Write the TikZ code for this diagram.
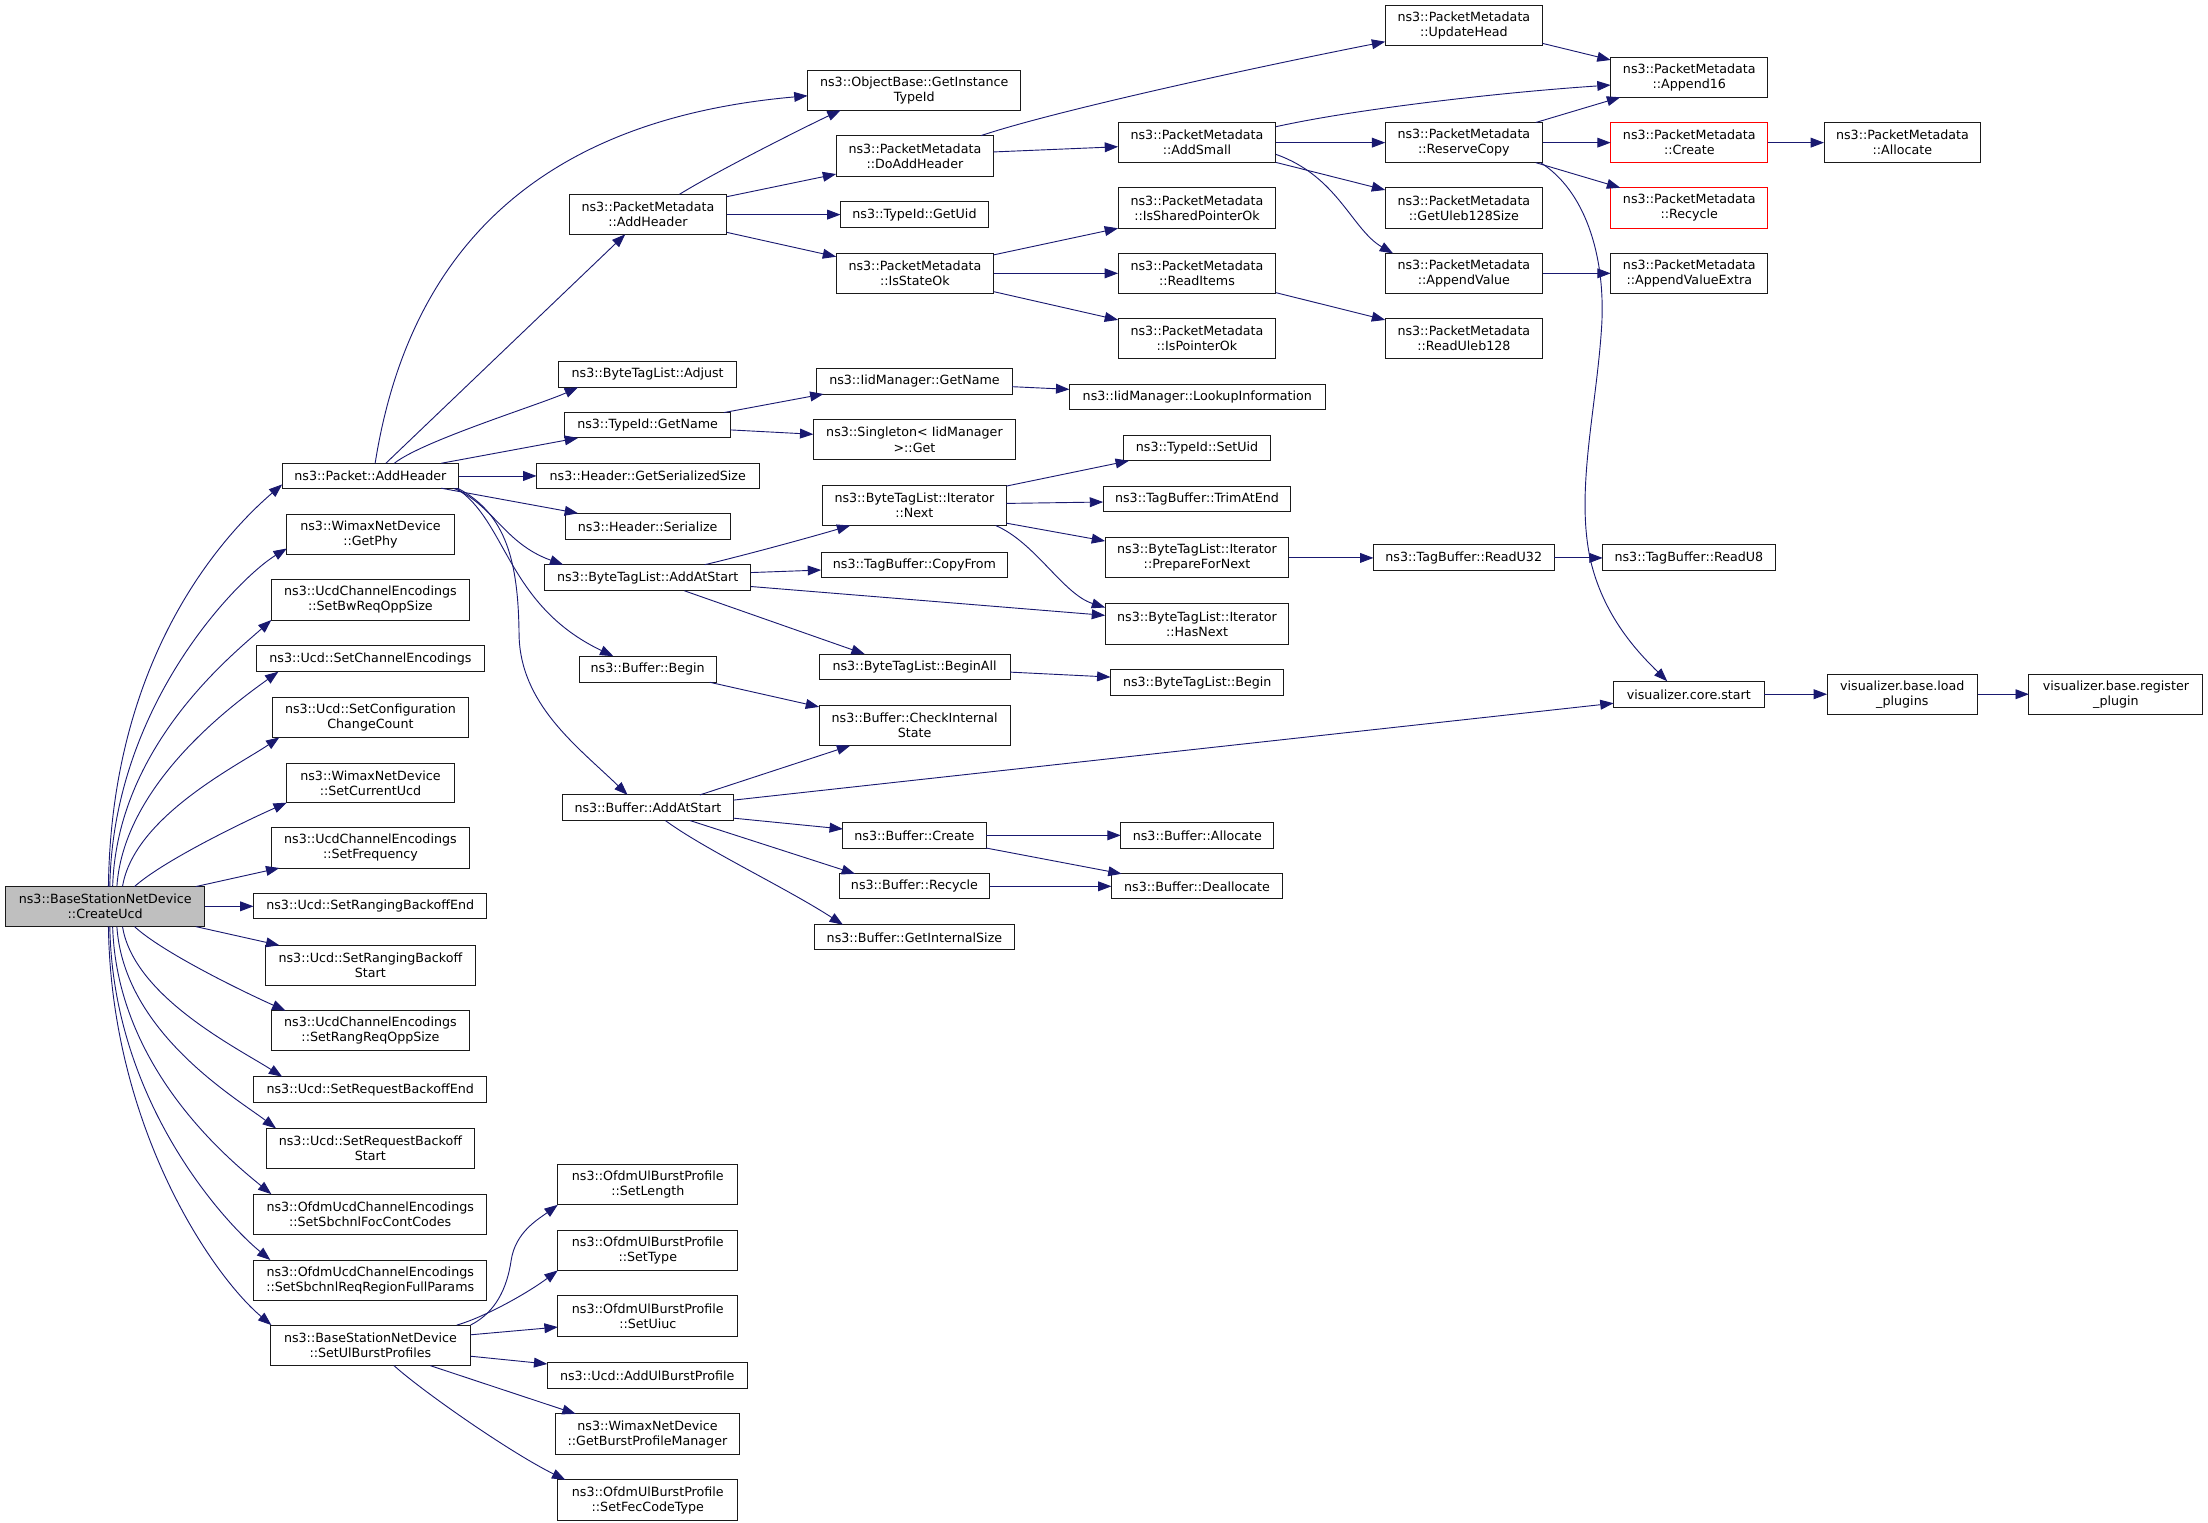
\documentclass[tikz,border=0pt]{standalone}
\usepackage{fontspec}
\setmainfont{DejaVu Sans}
\usetikzlibrary{arrows.meta}
\definecolor{edgec}{HTML}{191970}
\definecolor{graybg}{HTML}{BFBFBF}
\definecolor{boxline}{HTML}{1A1A1A}
\tikzset{
  bx/.style={draw=boxline, line width=0.7pt, fill=white, inner sep=0pt, outer sep=0pt,
    align=center, font=\fontsize{9.0}{10.7}\selectfont},
  redbx/.style={draw=red},
  e/.style={draw=edgec, line width=0.65pt, -{Triangle[length=9.5pt,width=7pt]}}
}
\newcommand\bx[7][]{\node[bx,#1,minimum width={(#5)-(#3)},minimum height={(#6)-(#4)}] (#2) at ({((#3)+(#5))/2},{((#4)+(#6))/2}) {#7};}
\begin{document}
\begin{tikzpicture}[x=1pt,y=-1pt]
\useasboundingbox (0,0) rectangle (1568,1081.5);
% ---------- column 1
\bx[fill=graybg]{A}{4}{629.6}{145.4}{658}{ns3::BaseStationNetDevice\\::CreateUcd}
% ---------- column 2
\bx{pah}{200.4}{329}{325.7}{346.7}{ns3::Packet::AddHeader}
\bx{getphy}{203.7}{365.2}{322.4}{393.6}{ns3::WimaxNetDevice\\::GetPhy}
\bx{bwreq}{192.7}{411.6}{333.4}{440.3}{ns3::UcdChannelEncodings\\::SetBwReqOppSize}
\bx{chenc}{182.3}{458.5}{343.8}{477}{ns3::Ucd::SetChannelEncodings}
\bx{ccc}{193.7}{495.2}{332.4}{523.6}{ns3::Ucd::SetConfiguration\\ChangeCount}
\bx{curucd}{203.7}{542}{322.4}{570}{ns3::WimaxNetDevice\\::SetCurrentUcd}
\bx{freq}{192.7}{587.7}{333.4}{616.4}{ns3::UcdChannelEncodings\\::SetFrequency}
\bx{rbe}{180}{634.6}{345.8}{652.6}{ns3::Ucd::SetRangingBackoffEnd}
\bx{rbs}{188.7}{671.3}{337.4}{699.7}{ns3::Ucd::SetRangingBackoff\\Start}
\bx{rro}{192.7}{717.7}{333.4}{746.3}{ns3::UcdChannelEncodings\\::SetRangReqOppSize}
\bx{rqe}{180.3}{764.6}{345.5}{783}{ns3::Ucd::SetRequestBackoffEnd}
\bx{rqs}{189.3}{801.3}{336.8}{830}{ns3::Ucd::SetRequestBackoff\\Start}
\bx{foc}{180}{848}{345.8}{877}{ns3::OfdmUcdChannelEncodings\\::SetSbchnlFocContCodes}
\bx{rrf}{180}{894.8}{345.8}{923.4}{ns3::OfdmUcdChannelEncodings\\::SetSbchnlReqRegionFullParams}
\bx{ulb}{192}{941}{334.1}{969.8}{ns3::BaseStationNetDevice\\::SetUlBurstProfiles}
% ---------- column 3
\bx{pmah}{404.1}{138}{516.1}{166.4}{ns3::PacketMetadata\\::AddHeader}
\bx{adj}{396.8}{256.8}{523.1}{275}{ns3::ByteTagList::Adjust}
\bx{tgn}{401.1}{293}{518.7}{311}{ns3::TypeId::GetName}
\bx{gss}{381}{329}{539}{347}{ns3::Header::GetSerializedSize}
\bx{ser}{401.5}{364.5}{518.4}{383}{ns3::Header::Serialize}
\bx{btas}{386.7}{401}{533.2}{419.5}{ns3::ByteTagList::AddAtStart}
\bx{bbeg}{411.2}{466}{508.7}{484.5}{ns3::Buffer::Begin}
\bx{bas}{399.5}{564.5}{520.8}{582.7}{ns3::Buffer::AddAtStart}
\bx{slen}{396.1}{826.8}{524}{855.6}{ns3::OfdmUlBurstProfile\\::SetLength}
\bx{stype}{396.1}{873.5}{524}{902.2}{ns3::OfdmUlBurstProfile\\::SetType}
\bx{suiuc}{396.1}{920.3}{524}{948.8}{ns3::OfdmUlBurstProfile\\::SetUiuc}
\bx{aulb}{388.7}{967.4}{530.5}{986}{ns3::Ucd::AddUlBurstProfile}
\bx{gbpm}{394.8}{1004}{524.8}{1033}{ns3::WimaxNetDevice\\::GetBurstProfileManager}
\bx{sfec}{396.1}{1050.9}{524}{1079.7}{ns3::OfdmUlBurstProfile\\::SetFecCodeType}
% ---------- column 4
\bx{obti}{573.5}{50.2}{725}{78.3}{ns3::ObjectBase::GetInstance\\TypeId}
\bx{dah}{593.8}{96.3}{705.6}{125}{ns3::PacketMetadata\\::DoAddHeader}
\bx{guid}{596.9}{143.2}{701.9}{161.7}{ns3::TypeId::GetUid}
\bx{iso}{593.8}{180}{705.6}{208.5}{ns3::PacketMetadata\\::IsStateOk}
\bx{iign}{580}{261.8}{718.8}{279.8}{ns3::IidManager::GetName}
\bx{sing}{577.6}{298}{721.2}{326.6}{ns3::Singleton< IidManager\\>::Get}
\bx{itn}{584.1}{345}{714.6}{373.2}{ns3::ByteTagList::Iterator\\::Next}
\bx{cpf}{583.1}{392.1}{715.7}{410}{ns3::TagBuffer::CopyFrom}
\bx{ball}{581.7}{464.5}{717.3}{482.3}{ns3::ByteTagList::BeginAll}
\bx{cis}{581.7}{500.7}{717.3}{529.5}{ns3::Buffer::CheckInternal\\State}
\bx{bcr}{598.6}{584.3}{700.2}{602.2}{ns3::Buffer::Create}
\bx{brc}{595.8}{620.5}{702.9}{638.3}{ns3::Buffer::Recycle}
\bx{gis}{578.3}{656.7}{720.5}{674.5}{ns3::Buffer::GetInternalSize}
% ---------- column 5
\bx{asm}{794}{87}{906}{115.5}{ns3::PacketMetadata\\::AddSmall}
\bx{ispo}{794}{133.3}{906}{162}{ns3::PacketMetadata\\::IsSharedPointerOk}
\bx{ritm}{794}{180}{906}{208.5}{ns3::PacketMetadata\\::ReadItems}
\bx{ipo}{794}{226.3}{906}{254.7}{ns3::PacketMetadata\\::IsPointerOk}
\bx{lki}{759.4}{273.2}{941.1}{291.1}{ns3::IidManager::LookupInformation}
\bx{suid}{797.9}{309}{902.2}{327.2}{ns3::TypeId::SetUid}
\bx{trim}{783.4}{345.2}{916.7}{363.3}{ns3::TagBuffer::TrimAtEnd}
\bx{pfn}{784.8}{381.9}{915.3}{410.4}{ns3::ByteTagList::Iterator\\::PrepareForNext}
\bx{hn}{784.8}{428.8}{915.3}{457.4}{ns3::ByteTagList::Iterator\\::HasNext}
\bx{btb}{788.6}{475.7}{911.8}{493.8}{ns3::ByteTagList::Begin}
\bx{balc}{795.9}{584.3}{904.6}{602.2}{ns3::Buffer::Allocate}
\bx{bdea}{789.3}{620.5}{910.8}{638.3}{ns3::Buffer::Deallocate}
% ---------- column 6
\bx{uh}{983.7}{3.6}{1095.4}{32}{ns3::PacketMetadata\\::UpdateHead}
\bx{rcp}{983.7}{87}{1095.4}{115.5}{ns3::PacketMetadata\\::ReserveCopy}
\bx{gul}{983.7}{133.3}{1095.4}{162}{ns3::PacketMetadata\\::GetUleb128Size}
\bx{apv}{983.7}{180}{1095.4}{208.5}{ns3::PacketMetadata\\::AppendValue}
\bx{rul}{983.7}{226.3}{1095.4}{254.7}{ns3::PacketMetadata\\::ReadUleb128}
\bx{ru32}{975.3}{387}{1103.6}{405}{ns3::TagBuffer::ReadU32}
% ---------- column 7
\bx{a16}{1143.8}{40.7}{1255.5}{69.1}{ns3::PacketMetadata\\::Append16}
\bx[redbx]{pcr}{1143.8}{87}{1255.5}{115.5}{ns3::PacketMetadata\\::Create}
\bx[redbx]{prc}{1143.8}{133.3}{1255.5}{162}{ns3::PacketMetadata\\::Recycle}
\bx{ave}{1143.8}{180}{1255.5}{208.5}{ns3::PacketMetadata\\::AppendValueExtra}
\bx{ru8}{1138.1}{387}{1260.6}{405}{ns3::TagBuffer::ReadU8}
\bx{vcs}{1145.9}{483.8}{1252.7}{502.3}{visualizer.core.start}
% ---------- columns 8, 9
\bx{palc}{1295.3}{87}{1406.7}{115.5}{ns3::PacketMetadata\\::Allocate}
\bx{vlp}{1297.5}{479.1}{1404.3}{507.5}{visualizer.base.load\\\_plugins}
\bx{vrp}{1440.8}{479.1}{1564.4}{507.5}{visualizer.base.register\\\_plugin}

% ================= edges
% from CreateUcd
\draw[e] (A.north -| 77,0) .. controls (79,470) and (155,383) .. (pah.west |- 0,344);
\draw[e] (A.north -| 78,0) .. controls (80,500) and (170,410) .. (getphy.west |- 0,389.5);
\draw[e] (A.north -| 80,0) .. controls (83,530) and (165,465) .. (bwreq.south west);
\draw[e] (A.north -| 83,0) .. controls (88,555) and (170,497) .. (chenc.south -| 197.7,0);
\draw[e] (A.north -| 87,0) .. controls (95,580) and (170,543) .. (ccc.south -| 198.4,0);
\draw[e] (A.north -| 95.5,0) .. controls (115,612) and (170,585) .. (curucd.south west);
\draw[e] (A.north -| 139,0) -- (freq.south -| 198.4,0);
\draw[e] (A.east |- 0,643.6) -- (rbe.west |- 0,643.6);
\draw[e] (A.south -| 139,0) -- (rbs.north -| 198.4,0);
\draw[e] (A.south -| 95.5,0) .. controls (115,676) and (170,703) .. (rro.north -| 202.7,0);
\draw[e] (A.south -| 87,0) .. controls (95,708) and (170,745) .. (rqe.north -| 200.4,0);
\draw[e] (A.south -| 83,0) .. controls (88,733) and (168,780) .. (rqs.north -| 196,0);
\draw[e] (A.south -| 80,0) .. controls (83,758) and (162,823) .. (foc.north -| 192.7,0);
\draw[e] (A.south -| 78,0) .. controls (80,780) and (157,866) .. (rrf.north -| 192,0);
\draw[e] (A.south -| 77,0) .. controls (79,800) and (150,905) .. (ulb.north -| 192.7,0);
% from Packet::AddHeader
\draw[e] (pah.north -| 266.4,0) .. controls (290,180) and (380,85) .. (obti.west |- 0,68);
\draw[e] (pah.north -| 274,0) -- (pmah.south -| 444,0);
\draw[e] (pah.north -| 280,0) .. controls (300,313) and (385.5,286.6) .. (adj.south -| 410.5,0);
\draw[e] (pah.north -| 313.3,0) -- (tgn.south -| 410.5,0);
\draw[e] (pah.east |- 0,338) -- (gss.west |- 0,338);
\draw[e] (pah.south -| 313.3,0) -- (ser.north -| 410.5,0);
\draw[e] (pah.south -| 322,0) .. controls (350,358) and (358,386) .. (btas.north -| 400,0);
\draw[e] (pah.south -| 324,0) .. controls (360,370) and (360,430) .. (bbeg.north -| 435.6,0);
\draw[e] (pah.south -| 325,0) .. controls (360,365) and (368,400) .. (368.6,450)
   .. controls (369,500) and (410,530) .. (bas.north -| 445.7,0);
% from PacketMetadata::AddHeader
\draw[e] (pmah.north -| 482.5,0) .. controls (510,121) and (575,88.5) .. (obti.south -| 597,0);
\draw[e] (pmah.east |- 0,139.7) -- (dah.west |- 0,123.6);
\draw[e] (pmah.east |- 0,152.4) -- (guid.west |- 0,152.4);
\draw[e] (pmah.east |- 0,165) -- (iso.west |- 0,182.3);
% DoAddHeader
\draw[e] (dah.north -| 696.7,0) .. controls (745,80) and (880,50) .. (uh.west |- 0,29.6);
\draw[e] (dah.east |- 0,107.9) -- (asm.west |- 0,104.2);
% AddSmall
\draw[e] (asm.east |- 0,90) .. controls (960,78) and (1060,66) .. (a16.west |- 0,60.4);
\draw[e] (asm.east |- 0,101.3) -- (rcp.west |- 0,101.3);
\draw[e] (asm.east |- 0,115.3) -- (gul.west |- 0,134.9);
\draw[e] (asm.east |- 0,109.6) .. controls (950,125) and (960,163) .. (apv.north -| 989.3,0);
% UpdateHead
\draw[e] (uh.east |- 0,30.8) -- (a16.west |- 0,42.6);
% ReserveCopy
\draw[e] (rcp.north -| 1090.6,0) -- (a16.south -| 1150.6,0);
\draw[e] (rcp.east |- 0,101.3) -- (pcr.west |- 0,101.3);
\draw[e] (rcp.south -| 1090.6,0) -- (prc.north -| 1150.6,0);
\draw[e] (rcp.south -| 1094,0) .. controls (1125,135) and (1140,180) .. (1137.5,230)
   .. controls (1134,290) and (1118,350) .. (1130,400)
   .. controls (1140,440) and (1165,465) .. (vcs.north -| 1184,0);
\draw[e] (pcr.east |- 0,101.3) -- (palc.west |- 0,101.3);
\draw[e] (apv.east |- 0,194.1) -- (ave.west |- 0,194.1);
% IsStateOk
\draw[e] (iso.east |- 0,181) -- (ispo.west |- 0,162.1);
\draw[e] (iso.east |- 0,194.1) -- (ritm.west |- 0,194.1);
\draw[e] (iso.east |- 0,207.1) -- (ipo.west |- 0,227.2);
\draw[e] (ritm.east |- 0,207.8) -- (rul.west |- 0,227.2);
% TypeId::GetName
\draw[e] (tgn.north -| 514,0) -- (iign.south -| 584.8,0);
\draw[e] (tgn.east |- 0,305.3) -- (sing.west |- 0,308.4);
\draw[e] (iign.east |- 0,274.6) -- (lki.west |- 0,276.5);
% ByteTagList::AddAtStart
\draw[e] (btas.north -| 500.5,0) .. controls (530,394) and (573.8,382) .. (itn.south -| 603.8,0);
\draw[e] (btas.east |- 0,406.6) -- (cpf.west |- 0,404.8);
\draw[e] (btas.east |- 0,416.5) -- (hn.west |- 0,437);
\draw[e] (btas.south -| 485.9,0) -- (ball.north -| 614.1,0);
% Iterator::Next
\draw[e] (itn.east |- 0,345.2) -- (suid.south -| 801.7,0);
\draw[e] (itn.east |- 0,357.5) -- (trim.west |- 0,356.5);
\draw[e] (itn.east |- 0,371.5) -- (pfn.west |- 0,384.2);
\draw[e] (itn.south -| 707,0) .. controls (735,385) and (755,422) .. (hn.west |- 0,431.4);
\draw[e] (pfn.east |- 0,396.2) -- (ru32.west |- 0,396.2);
\draw[e] (ru32.east |- 0,396.2) -- (ru8.west |- 0,396.2);
\draw[e] (ball.east |- 0,477.3) -- (btb.west |- 0,480.8);
% Buffer::Begin
\draw[e] (bbeg.south -| 504,0) -- (cis.west |- 0,502);
% Buffer::AddAtStart
\draw[e] (bas.north -| 497,0) -- (cis.south -| 603.8,0);
\draw[e] (bas.east |- 0,568.2) -- (vcs.west |- 0,499.4);
\draw[e] (bas.east |- 0,581) -- (bcr.west |- 0,588.7);
\draw[e] (bas.south -| 490,0) -- (brc.north -| 607.2,0);
\draw[e] (bas.south -| 472.5,0) .. controls (500,603) and (558.6,630.7) .. (gis.north -| 598.6,0);
% Buffer::Create / Recycle
\draw[e] (bcr.east |- 0,593.2) -- (balc.west |- 0,593.2);
\draw[e] (bcr.south east) -- (bdea.north -| 796.5,0);
\draw[e] (brc.east |- 0,629.4) -- (bdea.west |- 0,629.4);
% visualizer
\draw[e] (vcs.east |- 0,493) -- (vlp.west |- 0,493);
\draw[e] (vlp.east |- 0,493) -- (vrp.west |- 0,493);
% SetUlBurstProfiles
\draw[e] (ulb.north east) .. controls (352,932) and (360,915) .. (363,895)
   .. controls (366,875) and (382,866) .. (slen.south west);
\draw[e] (ulb.north -| 324.4,0) .. controls (345,935) and (375,918) .. (stype.south west);
\draw[e] (ulb.east |- 0,947.9) -- (suiuc.west |- 0,942.4);
\draw[e] (ulb.east |- 0,963.1) -- (aulb.west |- 0,968.6);
\draw[e] (ulb.south -| 305.6,0) -- (gbpm.north -| 408.8,0);
\draw[e] (ulb.south -| 279.8,0) .. controls (300,988) and (361.5,1031) .. (sfec.north -| 401.5,0);
\end{tikzpicture}
\end{document}
